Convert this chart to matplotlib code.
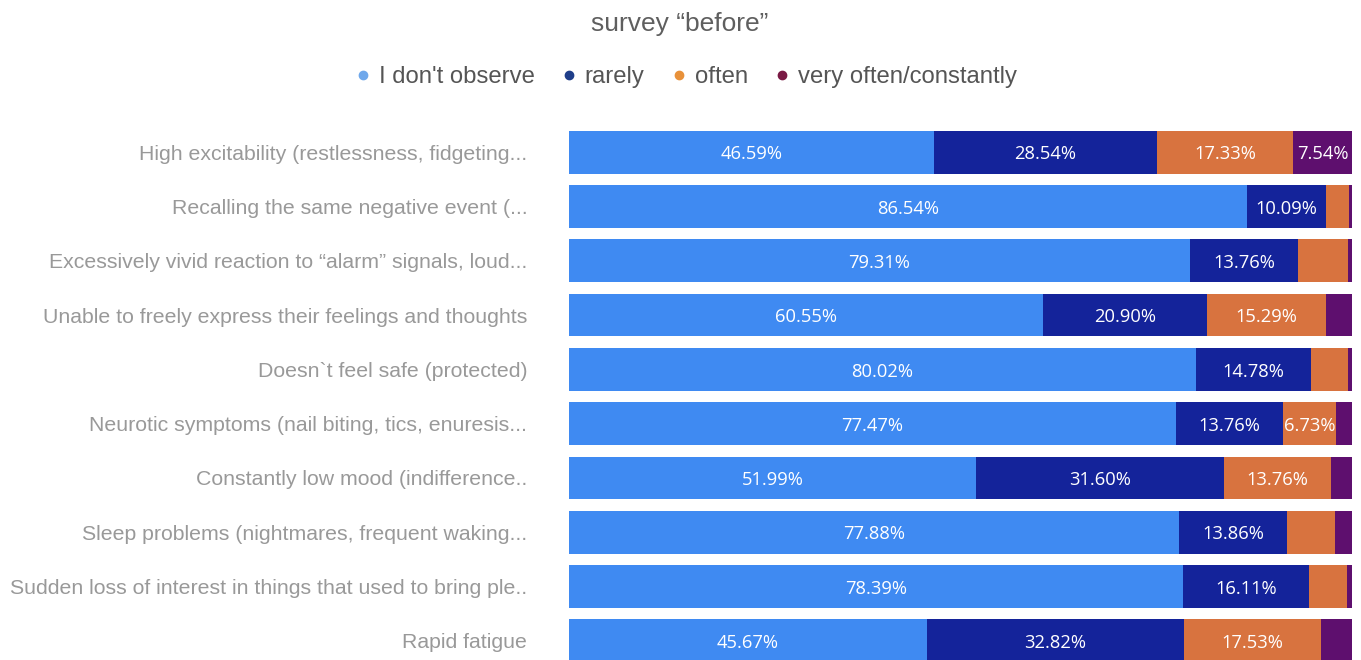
import matplotlib.pyplot as plt
from matplotlib.lines import Line2D
import numpy as np

categories = [
    "High excitability (restlessness, fidgeting...",
    "Recalling the same negative event (...",
    "Excessively vivid reaction to \u201calarm\u201d signals, loud...",
    "Unable to freely express their feelings and thoughts",
    "Doesn`t feel safe (protected)",
    "Neurotic symptoms (nail biting, tics, enuresis...",
    "Constantly low mood (indifference..",
    "Sleep problems (nightmares, frequent waking...",
    "Sudden loss of interest in things that used to bring ple..",
    "Rapid fatigue",
]
series = ["I don't observe", "rarely", "often", "very often/constantly"]

dont_observe = [46.59, 86.54, 79.31, 60.55, 80.02, 77.47, 51.99, 77.88, 78.39, 45.67]
rarely = [28.54, 10.09, 13.76, 20.90, 14.78, 13.76, 31.60, 13.86, 16.11, 32.82]
often = [17.33, 2.97, 6.46, 15.29, 4.75, 6.73, 13.76, 6.09, 4.85, 17.53]
very_often = [7.54, 0.40, 0.47, 3.26, 0.45, 2.04, 2.65, 2.17, 0.65, 3.98]

bar_colors = ["#3f8af2", "#14239a", "#d8733f", "#5e0f6e"]
legend_colors = ["#6fa8eb", "#1f3e8a", "#e8913a", "#7a1a44"]

plt.rcParams['font.family'] = ['Liberation Sans', 'DejaVu Sans']

fig = plt.figure(figsize=(13.61, 6.6), dpi=100)
ax = fig.add_axes([569 / 1361, -8 / 660, 783 / 1361, 543 / 660])

y = np.arange(len(categories))
left = np.zeros(len(categories))
for name, vals, col in zip(series, [dont_observe, rarely, often, very_often], bar_colors):
    vals = np.array(vals)
    ax.barh(y, vals, left=left, height=0.79, color=col, edgecolor='none')
    for yi, l, v in zip(y, left, vals):
        if v >= 6.5:
            ax.text(l + v / 2, yi + 0.04, f"{v:.2f}%", ha='center', va='center',
                    color='white', fontsize=13.2, family='Open Sans')
    left += vals

ax.set_xlim(0, 100)
ax.set_ylim(len(categories) - 0.5, -0.5)
ax.set_yticks(y)
ax.set_yticklabels(categories, fontsize=15.3, color='#999999')
ax.tick_params(axis='y', length=0, pad=30)
ax.set_xticks([])
for s in ax.spines.values():
    s.set_visible(False)

fig.text(680 / 1361, 1 - 24 / 660, "survey \u201cbefore\u201d", ha='center', va='center',
         fontsize=19, color='#5f5f5f')

handles = [Line2D([], [], marker='o', linestyle='none', markersize=6,
                  markerfacecolor=c, markeredgecolor=c) for c in legend_colors]
fig.legend(handles, series, loc='center', bbox_to_anchor=(684 / 1361, 1 - 77 / 660),
           ncol=4, frameon=False, fontsize=17.2, labelcolor='#555555',
           handletextpad=0.15, columnspacing=0.95, handlelength=1.0)

fig.savefig("out.png", dpi=100)
